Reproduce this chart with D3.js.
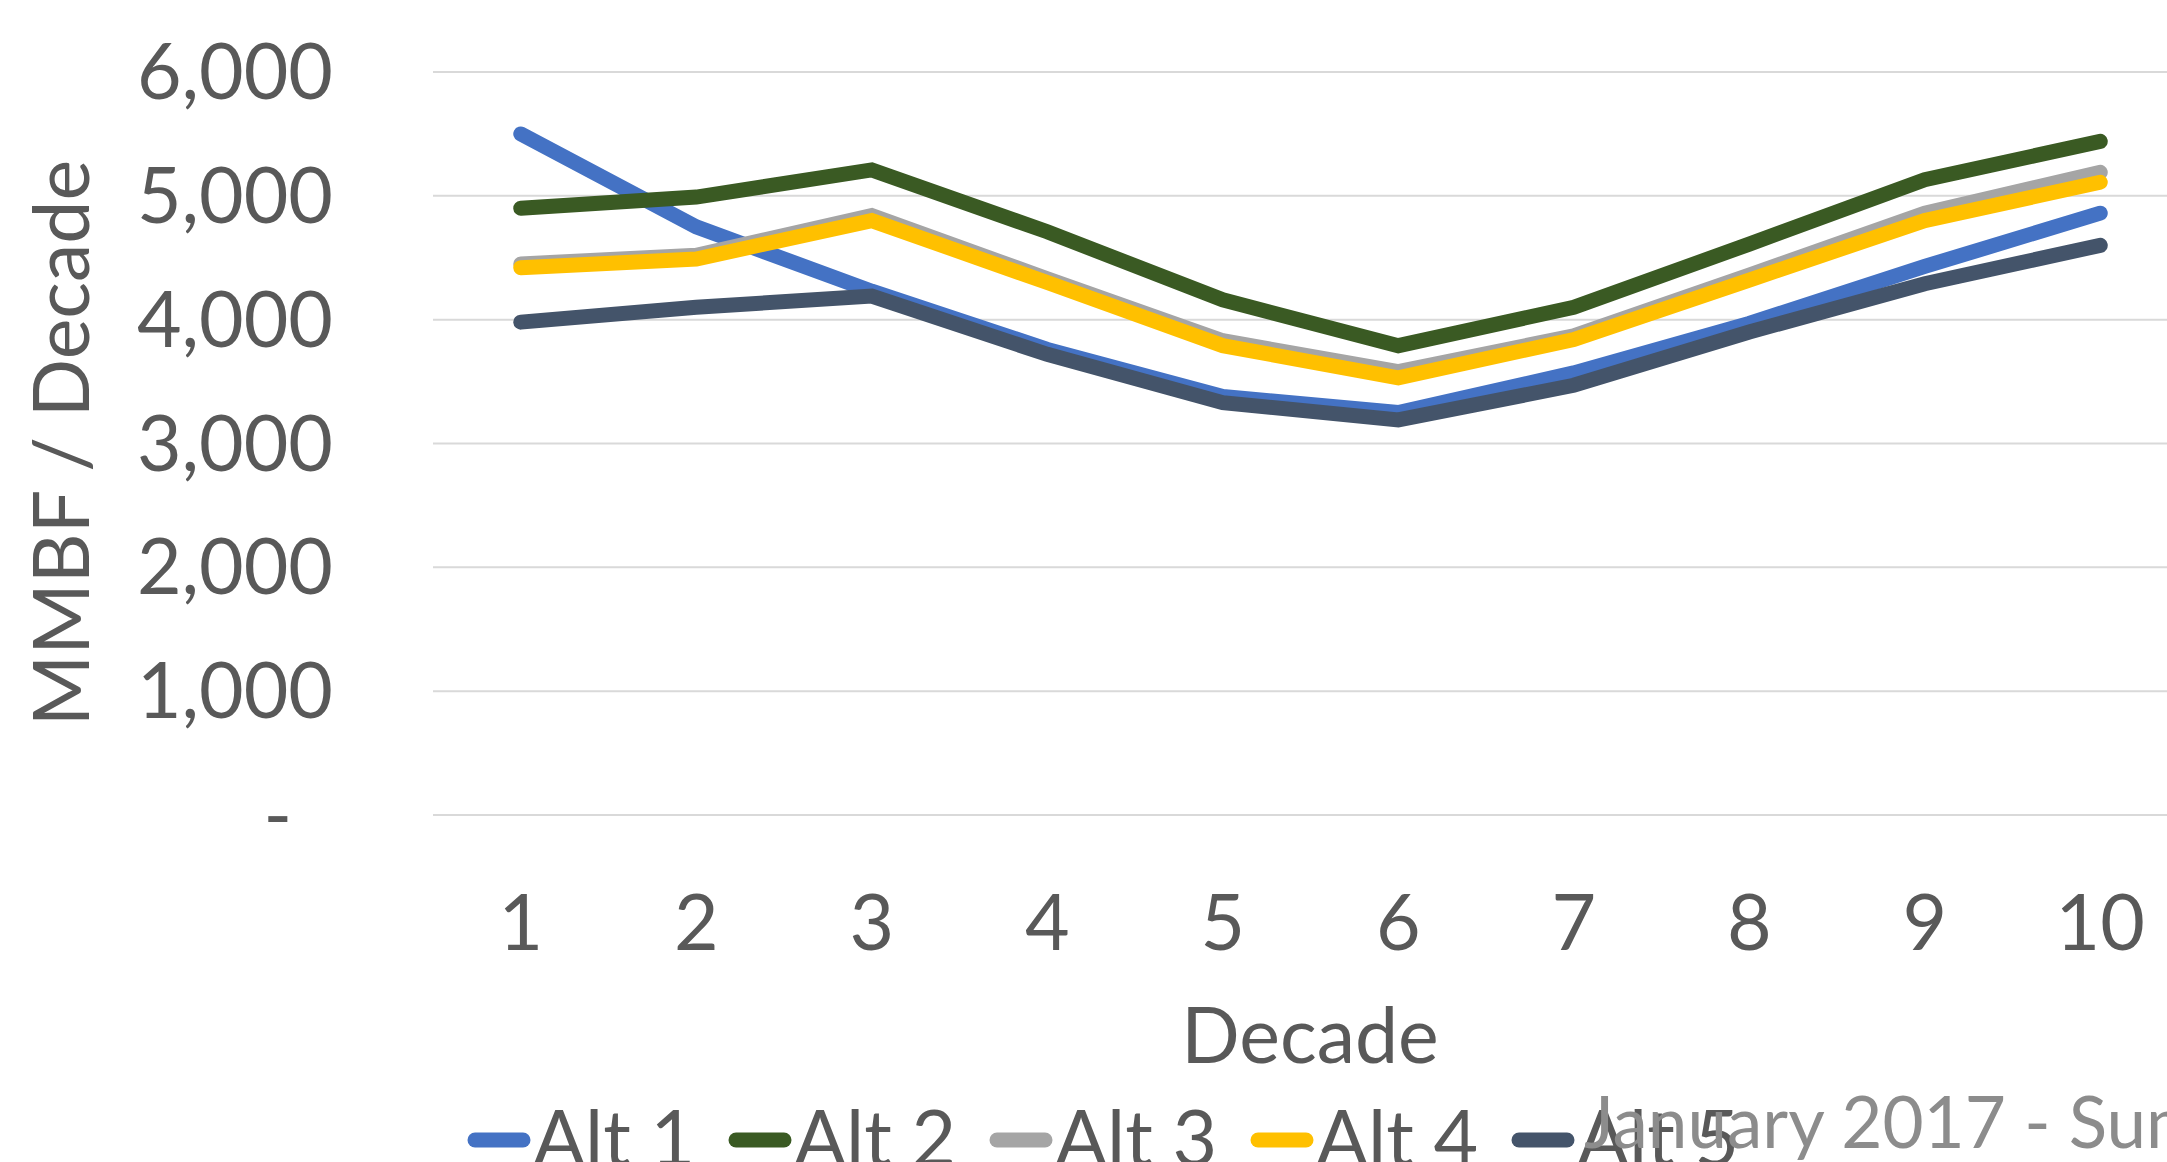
<!DOCTYPE html>
<html>
<head>
<meta charset="utf-8">
<script src="https://cdn.jsdelivr.net/npm/d3@7"></script>
<style>
  html, body { margin: 0; padding: 0; background: #fff; overflow: hidden; }
  text { font-family: Lato, "Open Sans", sans-serif; }
</style>
</head>
<body>
<div id="chart"></div>
<script>
// decades on the x axis
const decades = [1, 2, 3, 4, 5, 6, 7, 8, 9, 10]

// MMBF per decade
const alt1 = [5500, 4750, 4230, 3760, 3380, 3250, 3570, 3970, 4430, 4860]
const alt2 = [4900, 4990, 5210, 4710, 4160, 3790, 4100, 4610, 5130, 5440]
const alt3 = [4450, 4520, 4840, 4330, 3830, 3580, 3870, 4360, 4860, 5190]
const alt4 = [4420, 4490, 4800, 4300, 3790, 3530, 3840, 4320, 4800, 5110]
const alt5 = [3980, 4100, 4190, 3720, 3330, 3190, 3470, 3900, 4290, 4600]

const seriesNames = ["Alt 1", "Alt 2", "Alt 3", "Alt 4", "Alt 5"]
const seriesColors = ["#4472C4", "#3A5A23", "#A5A5A5", "#FFC000", "#44546A"]
const yTicks = [0, 1000, 2000, 3000, 4000, 5000, 6000]

const W = 2167, H = 1162
const textColor = "#595959"

const svg = d3.select("#chart").append("svg")
    .attr("width", W).attr("height", H)

// plot area (the original chart is cut off at the right edge)
const x = d3.scaleBand().domain(decades).range([433, 2188]).padding(0)
const y = d3.scaleLinear().domain([0, 6000]).range([815, 72])
const cx = d => x(d) + x.bandwidth() / 2

// gridlines
svg.append("g").selectAll("line").data(yTicks).join("line")
    .attr("x1", 433).attr("x2", 2188)
    .attr("y1", d => y(d)).attr("y2", d => y(d))
    .attr("stroke", "#D9D9D9").attr("stroke-width", 2)

// y axis labels, accounting style: zero shows as a dash
const fmt = d3.format(",")
svg.append("g").selectAll("text").data(yTicks).join("text")
    .attr("x", d => d === 0 ? 292 : 333)
    .attr("y", d => y(d) + 27)
    .attr("text-anchor", "end")
    .attr("font-size", 77)
    .attr("fill", textColor)
    .text(d => d === 0 ? "-" : fmt(d))

// x axis labels
svg.append("g").selectAll("text").data(decades).join("text")
    .attr("x", d => cx(d))
    .attr("y", 950)
    .attr("text-anchor", "middle")
    .attr("font-size", 77)
    .attr("fill", textColor)
    .text(d => d)

// axis titles
svg.append("text")
    .attr("transform", "translate(89,443) rotate(-90)")
    .attr("text-anchor", "middle")
    .attr("font-size", 77)
    .attr("fill", textColor)
    .text("MMBF / Decade")

svg.append("text")
    .attr("x", 1310).attr("y", 1063)
    .attr("text-anchor", "middle")
    .attr("font-size", 77)
    .attr("fill", textColor)
    .text("Decade")

// lines
const series = [alt1, alt2, alt3, alt4, alt5].map((vals, i) => ({
    name: seriesNames[i], color: seriesColors[i],
    values: vals.map((v, j) => ({ d: decades[j], v: v }))
}))

const line = d3.line().x(p => cx(p.d)).y(p => y(p.v))

svg.append("g").selectAll("path").data(series).join("path")
    .attr("d", s => line(s.values))
    .attr("fill", "none")
    .attr("stroke", s => s.color)
    .attr("stroke-width", 15)
    .attr("stroke-linecap", "round")
    .attr("stroke-linejoin", "miter")

// legend along the bottom
const legend = svg.append("g").selectAll("g").data(series).join("g")
    .attr("transform", (s, i) => `translate(${468 + i * 261},0)`)

legend.append("line")
    .attr("x1", 7).attr("x2", 55)
    .attr("y1", 1140).attr("y2", 1140)
    .attr("stroke", s => s.color)
    .attr("stroke-width", 15)
    .attr("stroke-linecap", "round")

legend.append("text")
    .attr("x", 65).attr("y", 1166)
    .attr("font-size", 77)
    .attr("fill", textColor)
    .text(s => s.name)

// footer text overlapping the legend
svg.append("text")
    .attr("x", 1584).attr("y", 1148)
    .attr("font-size", 71)
    .attr("fill", "#8C8C8C")
    .text("January 2017 - Summary")
</script>
</body>
</html>
